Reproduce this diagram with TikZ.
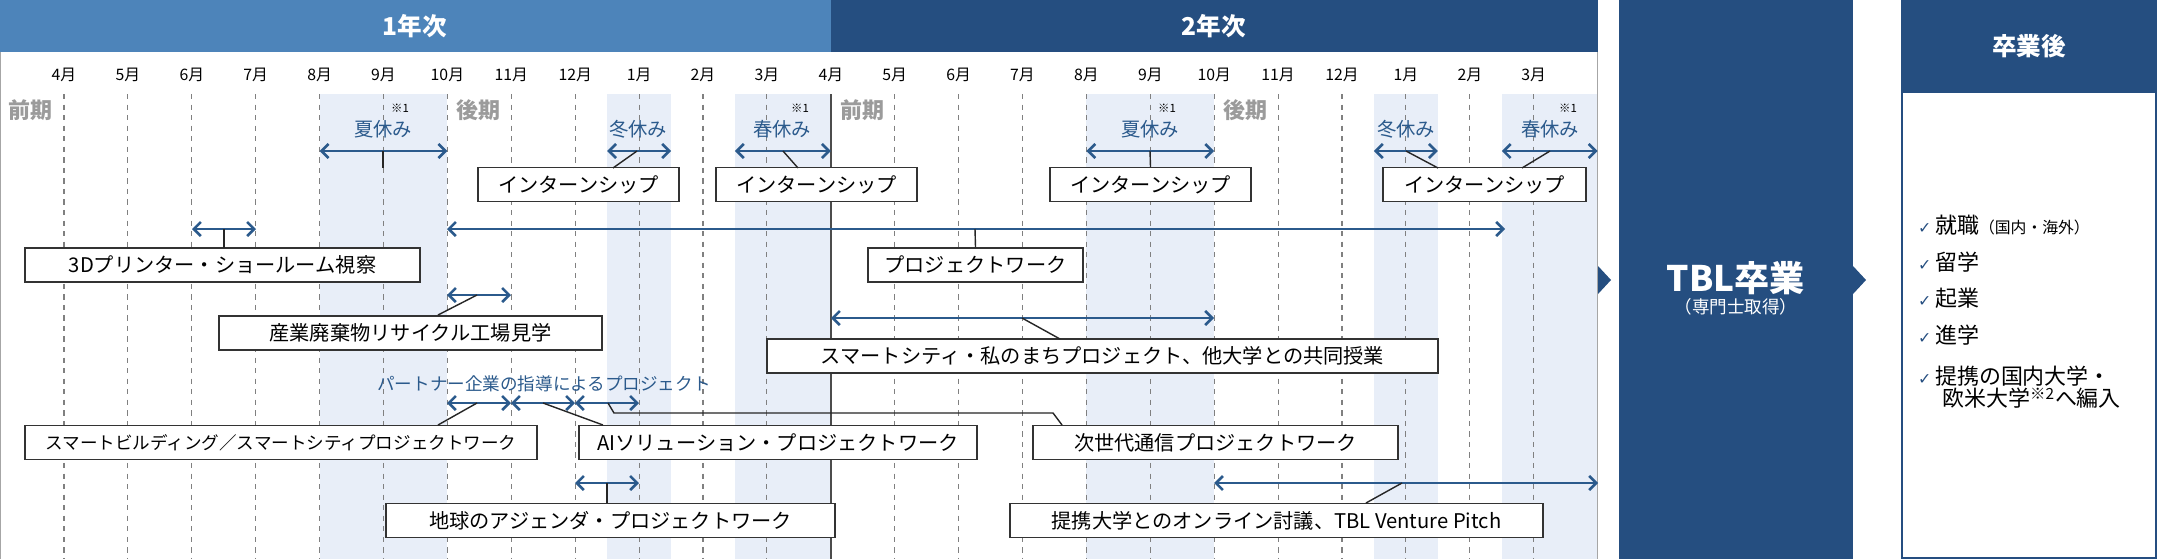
\documentclass[tikz,border=0pt]{standalone}
\usepackage{fontspec}
\setmainfont{Noto Sans CJK JP}
\newfontfamily\symfont{DejaVu Sans}
\usetikzlibrary{arrows.meta}
\definecolor{midblue}{RGB}{77,132,186}
\definecolor{darkblue}{RGB}{37,78,128}
\definecolor{arrowblue}{RGB}{43,90,140}
\definecolor{holshade}{RGB}{232,238,248}
\definecolor{termgray}{RGB}{155,155,155}
\newcommand{\fs}[1]{\fontsize{#1}{#1}\selectfont}
\begin{document}
\begin{tikzpicture}[x=0.02cm,y=-0.02cm,
    box/.style={draw=black!80,line width=0.8pt,fill=white,minimum height=0.68cm,inner sep=0pt,font=\fs{11.5}},
    span/.style={{Straight Barb[length=4pt,width=8pt]}-{Straight Barb[length=4pt,width=8pt]},arrowblue,line width=1.5pt},
    lead/.style={draw=black!85,line width=0.8pt},
    month/.style={font=\fs{9}},
    term/.style={termgray,font=\bfseries\fs{12.5}},
    holiday/.style={arrowblue,font=\fs{11}},
    note/.style={font=\fs{6.5}},
    check/.style={anchor=west,font=\fs{12.5},align=left}]
    \useasboundingbox (0,0) rectangle (2160,559);
    % header and shaded holidays
    \fill[white] (0,0) rectangle (1598,559);
    \foreach \a/\b in {4/6,8.5/9.5,10.5/12,16/18,20.5/21.5,22.5/24}
        \fill[holshade] ({64+63.9*\a},94) rectangle ({64+63.9*\b},559);
    \fill[midblue] (0,0) rectangle (831,52);
    \fill[darkblue] (831,0) rectangle (1598,52);
    \node[white,font=\bfseries\fs{14}] (y1) at (415,26) {1年次};
    \node[white,font=\bfseries\fs{14}] (y2) at (1214,26) {2年次};
    \draw[gray!70,line width=0.8pt] (0.4,52) -- (0.4,559) (1597.6,52) -- (1597.6,559);
    % months
    \foreach \k/\m in {0/4,1/5,2/6,3/7,4/8,5/9,6/10,7/11,8/12,9/1,10/2,11/3,12/4,13/5,14/6,15/7,16/8,17/9,18/10,19/11,20/12,21/1,22/2,23/3}{
        \node[month] (m\k) at ({64+63.9*\k},75) {\m{}月};
        \draw[gray,dashed,line width=0.6pt] ({64+63.9*\k},94) -- ({64+63.9*\k},559);
    }
    \draw[black!70,line width=1pt] (831,94) -- (831,559);
    \node[term] (t1) at (30,110) {前期};
    \node[term] (t2) at (478,110) {後期};
    \node[term] (t3) at (862,110) {前期};
    \node[term] (t4) at (1245,110) {後期};
    % holidays
    \node[holiday] (h1) at (383,129) {夏休み};
    \node[note] at (400,108) {※1};
    \node[holiday] (h2) at (638,129) {冬休み};
    \node[holiday] (h3) at (782,129) {春休み};
    \node[note] at (800,108) {※1};
    \node[holiday] (h4) at (1150,129) {夏休み};
    \node[note] at (1167,108) {※1};
    \node[holiday] (h5) at (1406,129) {冬休み};
    \node[holiday] (h6) at (1550,129) {春休み};
    \node[note] at (1568,108) {※1};
    \foreach \a/\b in {4/6,8.5/9.5,10.5/12,16/18,20.5/21.5,22.5/24}
        \draw[span] ({64+63.9*\a},151) -- ({64+63.9*\b},151);
    % boxes
    \node[box,minimum width=4.02cm] (i1) at (578.5,184.5) {インターンシップ};
    \node[box,minimum width=4.02cm] (i2) at (816.5,184.5) {インターンシップ};
    \node[box,minimum width=4.02cm] (i3) at (1150.5,184.5) {インターンシップ};
    \node[box,minimum width=4.06cm] (i4) at (1484.5,184.5) {インターンシップ};
    \node[box,minimum width=7.9cm] (d3) at (222.5,265) {3Dプリンター・ショールーム視察};
    \node[box,minimum width=4.3cm] (pw) at (975.5,265) {プロジェクトワーク};
    \node[box,minimum width=7.66cm] (rc) at (410.5,333) {産業廃棄物リサイクル工場見学};
    \node[box,minimum width=13.42cm] (sc) at (1102.5,356) {スマートシティ・私のまちプロジェクト、他大学との共同授業};
    \node[box,minimum width=10.24cm,font=\fs{10}] (sb) at (281,442.5) {スマートビルディング／スマートシティプロジェクトワーク};
    \node[box,minimum width=7.96cm] (ai) at (778,442.5) {AIソリューション・プロジェクトワーク};
    \node[box,minimum width=7.3cm] (nx) at (1215.5,442.5) {次世代通信プロジェクトワーク};
    \node[box,minimum width=8.98cm] (ag) at (610.5,520.5) {地球のアジェンダ・プロジェクトワーク};
    \node[box,minimum width=10.66cm] (vp) at (1276.5,520.5) {提携大学とのオンライン討議、TBL Venture Pitch};
    \node[arrowblue,font=\fs{10}] (pt) at (544,384) {パートナー企業の指導によるプロジェクト};
    % spans
    \draw[span] (192,229) -- (256,229);
    \draw[span] (447,229) -- (1505,229);
    \draw[span] (447,295) -- (511,295);
    \draw[span] (831,318) -- (1214,318);
    \draw[span] (447,403) -- (511,403);
    \draw[span] (511,403) -- (575,403);
    \draw[span] (575,403) -- (639,403);
    \draw[span] (575,483) -- (639,483);
    \draw[span] (1214,483) -- (1598,483);
    % leaders
    \draw[lead] (383,151) -- (383,168);
    \draw[lead] (637,151) -- (613,168);
    \draw[lead] (783,151) -- (798,168);
    \draw[lead] (1150,151) -- (i3.north);
    \draw[lead] (1406,151) -- (1438,168);
    \draw[lead] (1550,151) -- (1522,168);
    \draw[lead] (224,229) -- (224,248);
    \draw[lead] (975,229) -- (pw.north);
    \draw[lead] (477,295) -- (438,315);
    \draw[lead] (1022,318) -- (1060,339);
    \draw[lead] (477,403) -- (438,425);
    \draw[lead] (543,403) -- (603,425);
    \draw[lead] (608,403) -- (614,413) -- (1053,413) -- (1062,425);
    \draw[lead] (607,483) -- (607,503);
    \draw[lead] (1402,483) -- (1366,503);
    % graduation
    \fill[darkblue] (1619,0) rectangle (1853,559);
    \fill[darkblue] (1598,266) -- (1611,280) -- (1598,294) -- cycle;
    \fill[darkblue] (1853,266) -- (1866,280) -- (1853,294) -- cycle;
    \node[white,font=\bfseries\fs{20}] (tbl) at (1736,278) {TBL卒業};
    \node[white,font=\fs{10}] (sen) at (1736,307) {（専門士取得）};
    \fill[darkblue] (1901,0) rectangle (2157,92);
    \draw[darkblue,line width=1.5pt] (1902,92) rectangle (2156,558);
    \node[white,font=\bfseries\fs{14}] (af) at (2029,46) {卒業後};
    \foreach \y/\t in {225/就職{\fs{9}（国内・海外）},262/留学,298/起業,335/進学}
        \node[check] at (1912,\y) {{\symfont\fs{9}\color{darkblue}✓}\,\t};
    \node[check,anchor=north west] (tr) at (1912,360) {{\symfont\fs{9}\color{darkblue}✓}\,提携の国内大学・\\\hspace*{1.1em}欧米大学\textsuperscript{※2}へ編入};
\end{tikzpicture}
\end{document}
